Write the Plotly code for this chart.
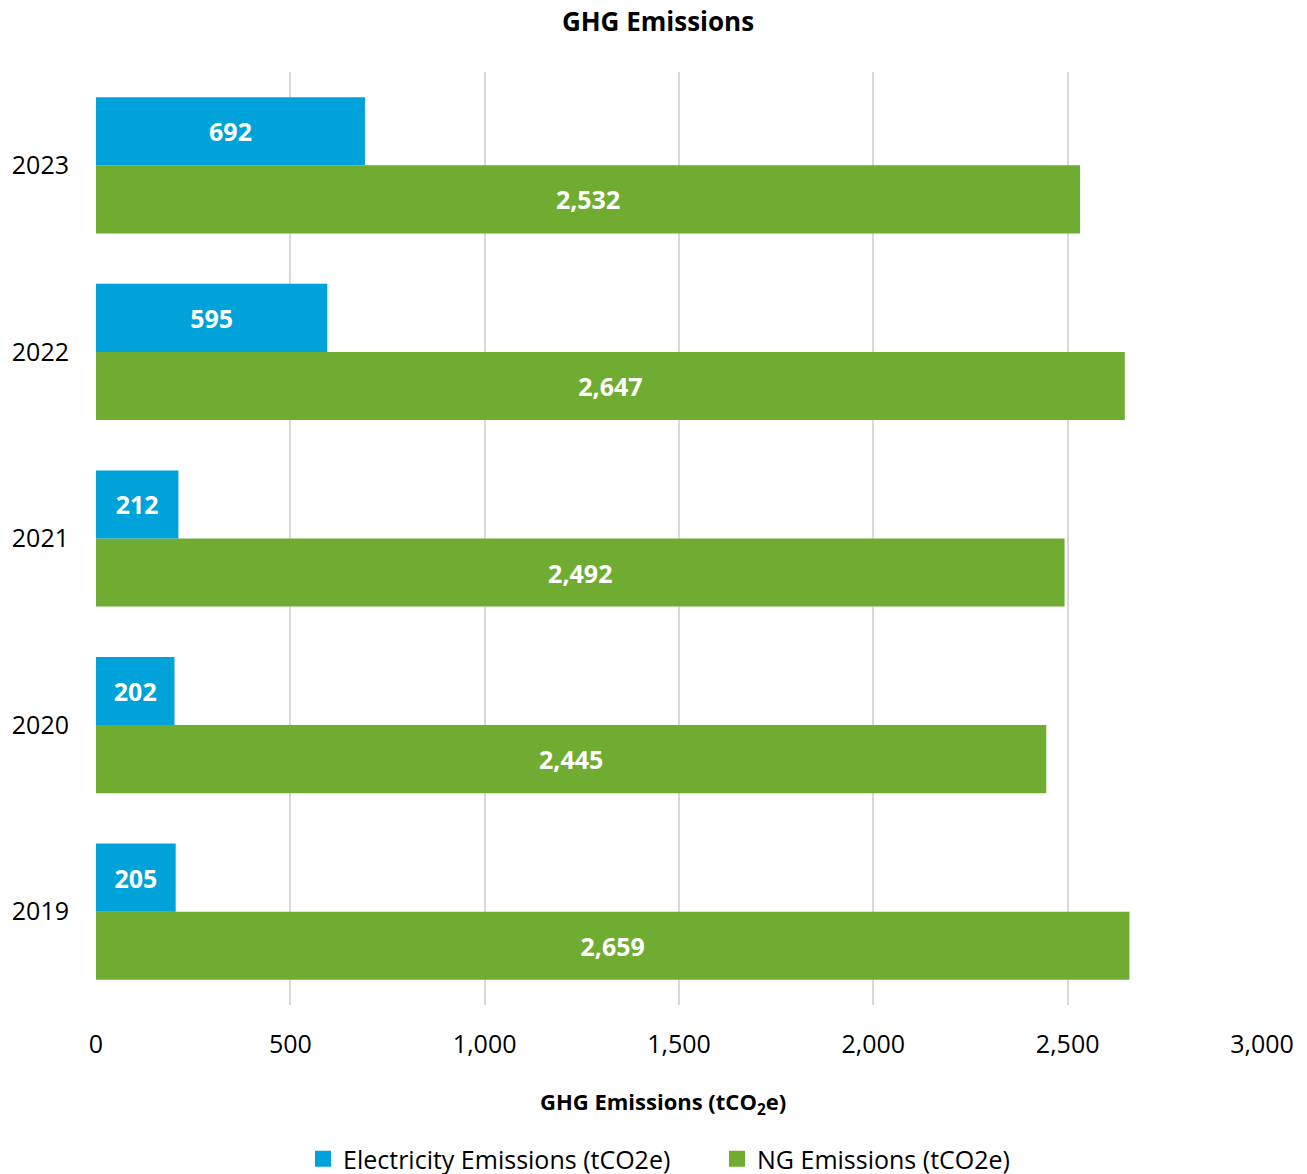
import plotly.graph_objects as go

years = ["2019", "2020", "2021", "2022", "2023"]
electricity = [205, 202, 212, 595, 692]
natural_gas = [2659, 2445, 2492, 2647, 2532]
x_ticks = [0, 500, 1000, 1500, 2000, 2500, 3000]

FONT = "Open Sans"
BLUE = "#00A2DA"
GREEN = "#71AC32"
LABEL_FONT = dict(family=FONT, size=25, color="white", weight="bold")

fig = go.Figure()

# NG first so it sits below electricity within each year group
fig.add_trace(go.Bar(
    y=years, x=natural_gas, orientation="h", name="NG Emissions (tCO2e)",
    marker=dict(color=GREEN, line=dict(width=0)),
    text=[f"{v:,}" for v in natural_gas], textposition="inside",
    insidetextanchor="middle", textangle=0, constraintext="none",
    textfont=LABEL_FONT, showlegend=False, hoverinfo="skip",
))
fig.add_trace(go.Bar(
    y=years, x=electricity, orientation="h", name="Electricity Emissions (tCO2e)",
    marker=dict(color=BLUE, line=dict(width=0)),
    text=[f"{v:,}" for v in electricity], textposition="inside",
    insidetextanchor="middle", textangle=0, constraintext="none",
    textfont=LABEL_FONT, showlegend=False, hoverinfo="skip",
))

# Legend entries with larger square swatches
for name, color in [("Electricity Emissions (tCO2e)", BLUE),
                    ("NG Emissions (tCO2e)", GREEN)]:
    fig.add_trace(go.Scatter(
        x=[None], y=[None], mode="markers", name=name,
        marker=dict(symbol="square", size=17, color=color),
        showlegend=True, hoverinfo="skip",
    ))

fig.update_layout(
    width=1307, height=1174,
    barmode="group", bargap=0.27, bargroupgap=0,
    paper_bgcolor="white", plot_bgcolor="white",
    margin=dict(l=96, r=45, t=72, b=169),
    font=dict(family=FONT, size=25, color="black"),
    title=dict(text="<b>GHG Emissions</b>", x=658 / 1307, xanchor="center",
               y=1 - 22 / 1174, yanchor="middle", yref="container",
               font=dict(family=FONT, size=26, color="black")),
    uniformtext=dict(minsize=25, mode="show"),
    xaxis=dict(
        range=[0, 3000], tickvals=x_ticks, tickformat=",",
        showgrid=True, gridcolor="#D9D9D9", gridwidth=2,
        zeroline=False, showline=False, ticks="",
        ticklabelstandoff=22,
        tickfont=dict(family=FONT, size=25, color="black"),
    ),
    yaxis=dict(
        type="category", categoryorder="array", categoryarray=years,
        showgrid=False, zeroline=False, showline=False, ticks="",
        ticklabelstandoff=26,
        tickfont=dict(family=FONT, size=25, color="black"),
    ),
    legend=dict(orientation="h", xref="container", x=303 / 1307, xanchor="left",
                y=15 / 1174, yref="container", yanchor="middle",
                font=dict(family=FONT, size=25, color="black"),
                itemwidth=30, entrywidth=369, entrywidthmode="pixels"),
    annotations=[dict(
        text="<b>GHG Emissions (tCO<sub>2</sub>e)</b>",
        xref="paper", yref="paper", x=(663 - 96) / 1166, y=-(1103 - 1005) / 933,
        xanchor="center", yanchor="middle", showarrow=False,
        font=dict(family=FONT, size=22, color="black"),
    )],
    showlegend=True,
)

fig.write_html("out.html")
